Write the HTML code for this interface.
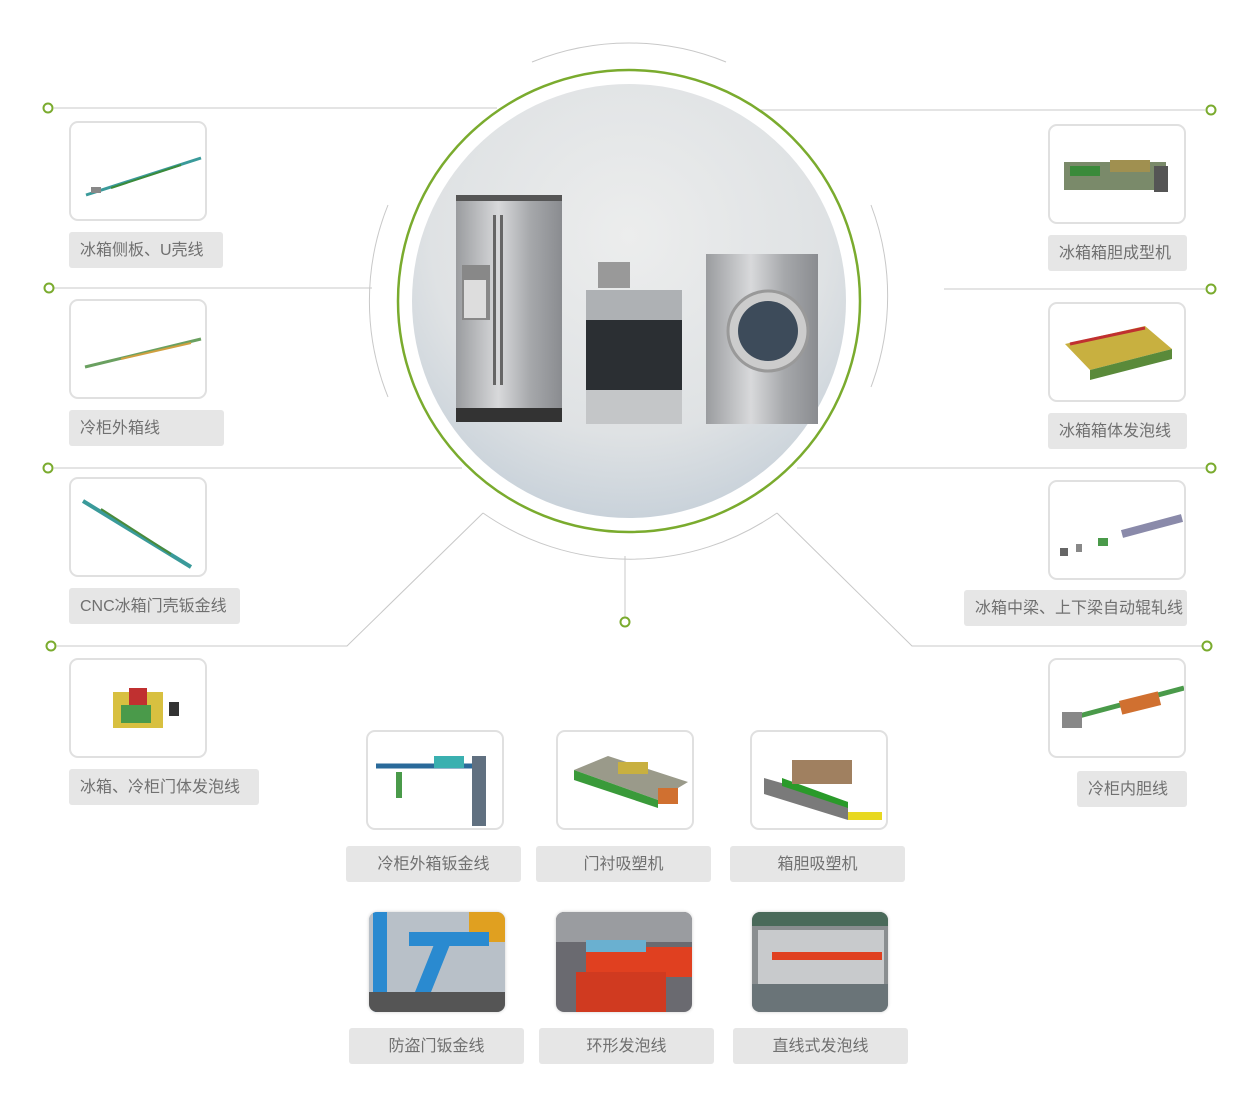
<!DOCTYPE html>
<html><head><meta charset="utf-8"><style>
body{margin:0;width:1256px;height:1116px;background:#fff;position:relative;overflow:hidden;font-family:"Liberation Sans","Noto Sans CJK SC",sans-serif}
.c{position:absolute;width:134px;height:96px;border:2px solid #e0e0e0;border-radius:9px;background:#fff;overflow:hidden}
.l{position:absolute;height:36px;line-height:37px;background:#e6e6e6;border-radius:3px;color:#707070;font-size:16px;padding:0 11px;box-sizing:border-box;white-space:nowrap}
.ctr{text-align:center}
.p{position:absolute;width:136px;height:100px;border-radius:8px;overflow:hidden;box-shadow:0 0 3px #ccc}
</style></head><body>
<svg width="1256" height="1116" style="position:absolute;left:0;top:0">
<defs>
<radialGradient id="bg" cx="50%" cy="35%" r="65%"><stop offset="0" stop-color="#eceded"/><stop offset="0.7" stop-color="#dfe2e4"/><stop offset="1" stop-color="#c9d2da"/></radialGradient>
<linearGradient id="st" x1="0" x2="1"><stop offset="0" stop-color="#9a9c9f"/><stop offset="0.4" stop-color="#d8d9db"/><stop offset="0.7" stop-color="#a6a8ab"/><stop offset="1" stop-color="#8a8c90"/></linearGradient>
</defs>
<g stroke="#c8c8c8" stroke-width="1" fill="none">
<line x1="54" y1="108" x2="497" y2="108"/>
<line x1="760" y1="110" x2="1205" y2="110"/>
<line x1="54" y1="288" x2="372" y2="288"/>
<line x1="944" y1="289" x2="1205" y2="289"/>
<line x1="54" y1="468" x2="462" y2="468"/>
<line x1="797" y1="468" x2="1205" y2="468"/>
<polyline points="57,646 347,646 483,513"/>
<polyline points="1202,646 912,646 777,513"/>
<line x1="625" y1="556" x2="625" y2="617"/>
<path d="M532,62 A257,257 0 0 1 726,62"/>
<path d="M388,205 A257,257 0 0 0 388,397"/>
<path d="M871,205 A257,257 0 0 1 871,387"/>
<path d="M483,513 A257,257 0 0 0 777,513"/>
</g>
<g fill="#fff" stroke="#7aab2e" stroke-width="2">
<circle cx="48" cy="108" r="4.5"/><circle cx="1211" cy="110" r="4.5"/>
<circle cx="49" cy="288" r="4.5"/><circle cx="1211" cy="289" r="4.5"/>
<circle cx="48" cy="468" r="4.5"/><circle cx="1211" cy="468" r="4.5"/>
<circle cx="51" cy="646" r="4.5"/><circle cx="1207" cy="646" r="4.5"/>
<circle cx="625" cy="622" r="4.5"/>
</g>
<circle cx="629" cy="301" r="231" fill="none" stroke="#7aab2e" stroke-width="2.5"/>
<circle cx="629" cy="301" r="217" fill="url(#bg)"/>
<rect x="456" y="197" width="106" height="225" fill="url(#st)"/>
<rect x="456" y="195" width="106" height="6" fill="#555"/>
<rect x="456" y="408" width="106" height="14" fill="#333"/>
<rect x="462" y="265" width="28" height="55" fill="#888"/>
<rect x="464" y="280" width="22" height="38" fill="#ddd"/>
<rect x="493" y="215" width="3" height="170" fill="#666"/><rect x="500" y="215" width="3" height="170" fill="#666"/>
<rect x="598" y="262" width="32" height="26" fill="#999"/>
<rect x="586" y="290" width="96" height="30" fill="#aeb1b4"/>
<rect x="586" y="320" width="96" height="70" fill="#2b2f33"/>
<rect x="586" y="390" width="96" height="34" fill="#c4c6c8"/>
<rect x="706" y="254" width="112" height="170" fill="url(#st)"/>
<circle cx="768" cy="331" r="40" fill="#ccc" stroke="#999" stroke-width="3"/>
<circle cx="768" cy="331" r="30" fill="#3d4b5a"/>
</svg>

<div class="c" style="left:69px;top:121px"><svg width="134" height="96"><path d="M15,72 L130,35" stroke="#3a9a9a" stroke-width="3"/><path d="M40,65 L110,42" stroke="#3a8a3a" stroke-width="2"/><rect x="20" y="64" width="10" height="6" fill="#888"/></svg></div>
<div class="l" style="left:69px;top:232px;width:154px">冰箱侧板、U壳线</div>
<div class="c" style="left:69px;top:299px"><svg width="134" height="96"><path d="M14,66 L130,38" stroke="#6aa060" stroke-width="3"/><path d="M50,58 L120,42" stroke="#d0a040" stroke-width="2"/></svg></div>
<div class="l" style="left:69px;top:410px;width:155px">冷柜外箱线</div>
<div class="c" style="left:69px;top:477px"><svg width="134" height="96"><path d="M12,22 L120,88" stroke="#3a9a9a" stroke-width="4"/><path d="M30,30 L100,75" stroke="#4a8a3a" stroke-width="2"/></svg></div>
<div class="l" style="left:69px;top:588px;width:171px">CNC冰箱门壳钣金线</div>
<div class="c" style="left:69px;top:658px"><svg width="134" height="96"><rect x="42" y="32" width="50" height="36" fill="#d8c040"/><rect x="58" y="28" width="18" height="20" fill="#c03030"/><rect x="50" y="45" width="30" height="18" fill="#4a9a4a"/><rect x="98" y="42" width="10" height="14" fill="#333"/></svg></div>
<div class="l" style="left:69px;top:769px;width:190px">冰箱、冷柜门体发泡线</div>

<div class="c" style="left:1048px;top:124px"><svg width="134" height="96"><rect x="14" y="36" width="102" height="28" fill="#7a8a6a"/><rect x="20" y="40" width="30" height="10" fill="#3a8a3a"/><rect x="60" y="34" width="40" height="12" fill="#a09050"/><rect x="104" y="40" width="14" height="26" fill="#555"/></svg></div>
<div class="l" style="left:1048px;top:235px;width:139px">冰箱箱胆成型机</div>
<div class="c" style="left:1048px;top:302px"><svg width="134" height="96"><polygon points="15,40 95,22 122,45 40,66" fill="#c8b040"/><polygon points="40,66 122,45 122,55 40,76" fill="#5a8a3a"/><path d="M20,40 L95,24" stroke="#c03030" stroke-width="3"/></svg></div>
<div class="l" style="left:1048px;top:413px;width:139px">冰箱箱体发泡线</div>
<div class="c" style="left:1048px;top:480px"><svg width="134" height="96"><path d="M72,52 L132,36" stroke="#8a8aaa" stroke-width="8"/><rect x="10" y="66" width="8" height="8" fill="#666"/><rect x="26" y="62" width="6" height="8" fill="#888"/><rect x="48" y="56" width="10" height="8" fill="#4a9a4a"/></svg></div>
<div class="l" style="left:964px;top:590px;width:223px">冰箱中梁、上下梁自动辊轧线</div>
<div class="c" style="left:1048px;top:658px"><svg width="134" height="96"><path d="M14,60 L134,28" stroke="#4a9a4a" stroke-width="5"/><rect x="70" y="36" width="40" height="14" fill="#d07030" transform="rotate(-14 90 43)"/><rect x="12" y="52" width="20" height="16" fill="#888"/></svg></div>
<div class="l" style="left:1077px;top:771px;width:110px">冷柜内胆线</div>

<div class="c" style="left:366px;top:730px"><svg width="134" height="96"><path d="M8,34 L110,34" stroke="#2a6a9a" stroke-width="5"/><rect x="104" y="24" width="14" height="70" fill="#607080"/><rect x="28" y="40" width="6" height="26" fill="#4a9a4a"/><rect x="66" y="24" width="30" height="12" fill="#3ab0b0"/></svg></div>
<div class="l ctr" style="left:346px;top:846px;width:175px">冷柜外箱钣金线</div>
<div class="c" style="left:556px;top:730px"><svg width="134" height="96"><polygon points="16,38 50,24 130,50 100,68" fill="#9a9a8a"/><polygon points="16,38 100,68 100,76 16,48" fill="#3a9a3a"/><rect x="100" y="56" width="20" height="16" fill="#d07030"/><rect x="60" y="30" width="30" height="12" fill="#c8b040"/></svg></div>
<div class="l ctr" style="left:536px;top:846px;width:175px">门衬吸塑机</div>
<div class="c" style="left:750px;top:730px"><svg width="134" height="96"><polygon points="12,46 12,62 96,88 96,70" fill="#7a7a7a"/><polygon points="30,46 96,70 96,76 30,54" fill="#2a9a2a"/><rect x="40" y="28" width="60" height="24" fill="#a08060"/><rect x="96" y="80" width="34" height="8" fill="#e8d820"/></svg></div>
<div class="l ctr" style="left:730px;top:846px;width:175px">箱胆吸塑机</div>

<div class="p" style="left:369px;top:912px;background:#9aa6b0"><svg width="136" height="100"><rect x="0" y="0" width="136" height="100" fill="#b8c0c8"/><rect x="100" y="0" width="36" height="30" fill="#e0a020"/><rect x="4" y="0" width="14" height="100" fill="#2a8ad0"/><polygon points="40,95 70,20 86,20 56,95" fill="#2a8ad0"/><rect x="40" y="20" width="80" height="14" fill="#2a8ad0"/><rect x="0" y="80" width="136" height="20" fill="#555"/></svg></div>
<div class="l ctr" style="left:349px;top:1028px;width:175px">防盗门钣金线</div>
<div class="p" style="left:556px;top:912px"><svg width="136" height="100"><rect width="136" height="100" fill="#6a6a70"/><rect x="0" y="0" width="136" height="30" fill="#9a9ca0"/><rect x="30" y="35" width="106" height="30" fill="#e04020"/><rect x="20" y="60" width="90" height="40" fill="#d03a20"/><rect x="30" y="28" width="60" height="12" fill="#6ab0d0"/></svg></div>
<div class="l ctr" style="left:539px;top:1028px;width:175px">环形发泡线</div>
<div class="p" style="left:752px;top:912px"><svg width="136" height="100"><rect width="136" height="100" fill="#8a8e90"/><rect x="0" y="0" width="136" height="14" fill="#4a6a5a"/><rect x="6" y="18" width="126" height="54" fill="#c8cacc"/><rect x="20" y="40" width="110" height="8" fill="#e04020"/><rect x="0" y="72" width="136" height="28" fill="#6a7478"/></svg></div>
<div class="l ctr" style="left:733px;top:1028px;width:175px">直线式发泡线</div>
</body></html>
